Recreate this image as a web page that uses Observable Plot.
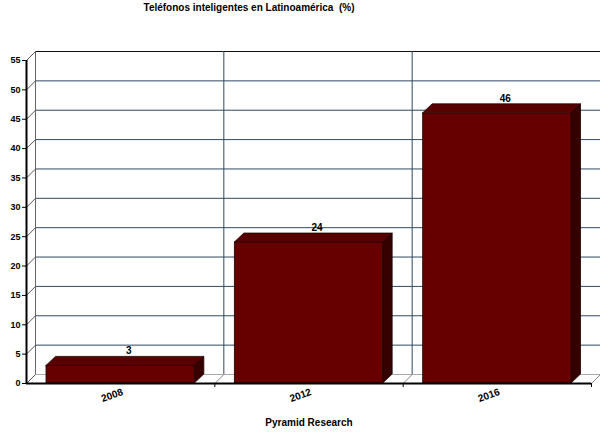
<!DOCTYPE html>
<html><head><meta charset="utf-8">
<script src="https://cdn.jsdelivr.net/npm/d3@7"></script>
<script src="https://cdn.jsdelivr.net/npm/@observablehq/plot@0.6"></script>
<style>body{margin:0;background:#fff}</style>
</head><body><div id="chart"></div>
<script>
const years = ["2008", "2012", "2016"];
const values = [3, 24, 46];
const yTicks = d3.range(0, 56, 5);
const title = "Teléfonos inteligentes en Latinoamérica  (%)";
const caption = "Pyramid Research";

const W = 600, H = 432, mL = 26, mR = 9, mT = 60, mB = 49;
const pxX = (W - mL - mR) / years.length;
const pxY = (H - mT - mB) / 55;
const wallX = 9 / pxX, wallY = 9 / pxY;     // wall depth in data units
const barDX = 9.5 / pxX, barDY = 9 / pxY;   // bar depth in data units
const pad = 20 / pxX;

const bars = years.map((year, i) => ({year, value: values[i], x1: i + pad, x2: i + 1 - pad, xc: i + 0.5}));
const tops = bars.flatMap(b => [
  {year: b.year, y: b.value, a: b.x1, b: b.x2},
  {year: b.year, y: b.value + barDY, a: b.x1 + barDX, b: b.x2 + barDX}
]);
const sides = bars.flatMap(b => [
  {year: b.year, x: b.x2, y1: 0, y2: b.value},
  {year: b.year, x: b.x2 + barDX, y1: barDY, y2: b.value + barDY}
]);

const grid = "#2e4a62";
const font = "Liberation Sans, Arial, sans-serif";

const chart = Plot.plot({
  width: W, height: H,
  marginLeft: mL, marginRight: mR, marginTop: mT, marginBottom: mB,
  style: {fontFamily: font, background: "#fff", color: "#000"},
  x: {type: "linear", domain: [0, years.length]},
  y: {type: "linear", domain: [0, 55]},
  marks: [
    // back wall
    Plot.ruleY(yTicks.filter(v => v > 0 && v < 55), {x1: 0, x2: years.length, dx: 9, dy: -9, stroke: grid, strokeWidth: 1}),
    Plot.ruleY([55], {x1: 0, x2: years.length, dx: 9, dy: -9, stroke: "#111", strokeWidth: 1}),
    Plot.ruleY([0], {x1: 0, x2: years.length, dx: 9, dy: -9, stroke: "#aaa", strokeWidth: 1}),
    Plot.ruleX([1, 2], {y1: 0, y2: 55, dx: 9, dy: -9, stroke: grid, strokeWidth: 1}),
    Plot.ruleX([0], {y1: 0, y2: 55, dx: 9, dy: -9, stroke: "#666", strokeWidth: 1}),
    // left wall diagonals
    Plot.link(yTicks, {x1: 0, x2: wallX, y1: d => d, y2: d => d + wallY, stroke: "#555", strokeWidth: 1}),
    // floor diagonals
    Plot.link([1, 2, 3], {x1: d => d, x2: d => d + wallX, y1: 0, y2: wallY, stroke: "#888", strokeWidth: 1}),
    // bars
    Plot.areaY(sides, {x: "x", y1: "y1", y2: "y2", z: "year", fill: "#340000", stroke: "#200000", strokeWidth: 0.8}),
    Plot.areaX(tops, {y: "y", x1: "a", x2: "b", z: "year", fill: "#560000", stroke: "#200000", strokeWidth: 0.8}),
    Plot.rect(bars, {x1: "x1", x2: "x2", y1: 0, y2: "value", fill: "#660000", stroke: "#200000", strokeWidth: 0.8}),
    // axes
    Plot.axisY({ticks: yTicks, tickSize: 4, tickPadding: 2, fontSize: 9, fontWeight: "bold", label: null}),
    Plot.axisX({ticks: [1, 2, 3], tickSize: 4, tickFormat: () => "", label: null}),
    Plot.ruleX([0], {y1: 0, y2: 55, stroke: "#000", strokeWidth: 2}),
    Plot.ruleY([0], {x1: 0, x2: years.length, stroke: "#000", strokeWidth: 2}),
    // category labels
    Plot.text(bars, {x: "xc", y: 0, text: "year", rotate: -20, textAnchor: "end", dx: 2, dy: 8, fontSize: 10, fontWeight: "bold"}),
    // value labels
    Plot.text(bars, {x: "xc", y: "value", text: d => String(d.value), dx: 8, dy: -15, fontSize: 10, fontWeight: "bold"}),
    // title & caption
    Plot.text([title], {text: d => d, frameAnchor: "top", lineAnchor: "middle", dx: -60, dy: -53, fontSize: 10, fontWeight: "bold"}),
    Plot.text([caption], {text: d => d, frameAnchor: "bottom", lineAnchor: "middle", dy: 39, fontSize: 10, fontWeight: "bold"})
  ]
});
document.getElementById("chart").appendChild(chart);
</script>
</body></html>
